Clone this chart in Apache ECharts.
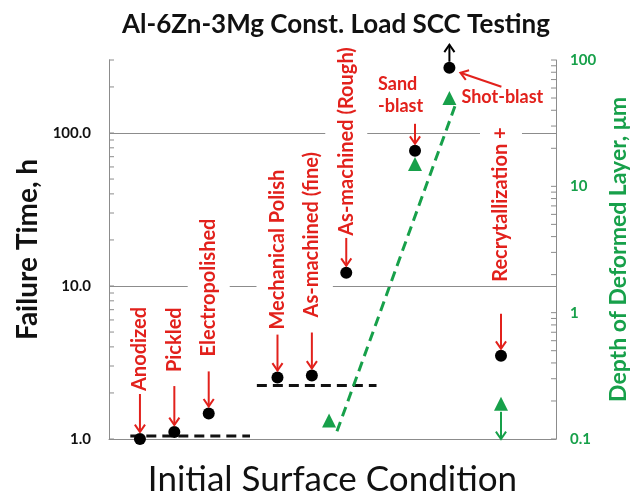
<!DOCTYPE html>
<html>
<head>
<meta charset="utf-8">
<script src="https://cdn.jsdelivr.net/npm/echarts@6/dist/echarts.min.js"></script>
<style>
  html, body { margin: 0; padding: 0; background: #fff; }
  #chart { width: 638px; height: 502px; }
</style>
</head>
<body>
<div id="chart"></div>
<script>
// Surface conditions, where they sit along the x axis, and failure times (h)
const conditions = ['Anodized', 'Pickled', 'Electropolished', 'Mechanical Polish',
  'As-machined (fine)', 'As-machined (Rough)', 'Sand\n-blast', 'Shot-blast', 'Recrytallization +'];
const positions = [1, 2, 3, 5, 6, 7, 9, 10, 11.5];
const failureTime = [1.0, 1.11, 1.47, 2.52, 2.6, 12.2, 76.5, 267, 3.5];

// Depth of the deformed surface layer (µm)
const depthPositions = [6.5, 9, 10, 11.5];
const depthValues = [0.14, 15, 50, 0.19];

// Depth trend line (x, µm)
const depthTrendX = [6.73, 10.16];
const depthTrendY = [0.115, 43];

// Average failure-time levels of the two low groups
const lowGroupX = [0.72, 4.2];
const lowGroupLevel = 1.045;
const midGroupX = [4.4, 7.88];
const midGroupLevel = 2.24;

// Axis ticks and labels
const leftTicks = [1, 2, 3, 4, 5, 6, 7, 8, 9, 10, 20, 30, 40, 50, 60, 70, 80, 90, 100, 200, 300];
const leftLabels = [1, 10, 100];
const rightTicks = [0.1, 0.2, 0.3, 0.4, 0.5, 0.6, 0.7, 0.8, 0.9, 1, 2, 3, 4, 5, 6, 7, 8, 9,
  10, 20, 30, 40, 50, 60, 70, 80, 90, 100];
const rightLabels = [0.1, 1, 10, 100];
const gridLevels = [10, 100];

const FONT = 'Lato, "Open Sans", sans-serif';
const RED = '#e2211c';
const GREEN = '#17a04a';
const AXIS = '#8c8c8c';
const X_MIN = 0.1, X_MAX = 13.1;

// Callout layout per condition, in pixels relative to its dot:
// len = arrow length, gap = space between arrow tail and text
const calloutLayout = [
  { len: 38, gap: 1 },
  { len: 39, gap: 12 },
  { len: 35, gap: 13 },
  { len: 36, gap: 3 },
  { len: 36, gap: 13 },
  { len: 28, gap: 0 },
  { len: 20, gap: 7, flat: true, dx: -37 },
  { shot: true },
  { len: 35, gap: 30 }
];

function arrowParts(a, b, color, width) {
  const ang = Math.atan2(b[1] - a[1], b[0] - a[0]);
  const h = 9, w = 0.6;
  const p1 = [b[0] - h * Math.cos(ang - w), b[1] - h * Math.sin(ang - w)];
  const p2 = [b[0] - h * Math.cos(ang + w), b[1] - h * Math.sin(ang + w)];
  return [
    { type: 'line', shape: { x1: a[0], y1: a[1], x2: b[0], y2: b[1] },
      style: { stroke: color, lineWidth: width } },
    { type: 'polyline', shape: { points: [p1, b, p2] },
      style: { stroke: color, lineWidth: width, fill: null } }
  ];
}

function renderCallout(params, api) {
  const i = api.value(2);
  const lay = calloutLayout[i];
  const p = api.coord([api.value(0), api.value(1)]);
  const children = [];
  const text = conditions[i];
  if (lay.shot) {
    children.push(...arrowParts([p[0] + 52, p[1] + 19], [p[0] + 11, p[1] + 5], RED, 2));
    children.push({ type: 'text', x: p[0] + 12, y: p[1] + 29,
      style: { text, font: 'bold 18px ' + FONT, fill: RED, align: 'left', verticalAlign: 'middle' } });
    // open-ended result: the specimen outlasted the test
    children.push(...arrowParts([p[0], p[1] - 6], [p[0], p[1] - 23], '#000', 2));
    return { type: 'group', children };
  }
  const tip = [p[0], p[1] - 7];
  const tail = [p[0], tip[1] - lay.len];
  if (lay.len > 0) children.push(...arrowParts(tail, tip, RED, 2));
  const foot = tail[1] - lay.gap;
  if (lay.flat) {
    children.push({ type: 'text', x: p[0] + lay.dx, y: foot,
      style: { text, font: 'bold 18px ' + FONT, fill: RED, align: 'left', verticalAlign: 'bottom',
        lineHeight: 22 } });
  } else {
    children.push({ type: 'text', x: p[0], y: foot, rotation: Math.PI / 2,
      style: { text, font: 'bold 20px ' + FONT, fill: RED, align: 'left', verticalAlign: 'middle',
        backgroundColor: '#fff', padding: [11, 2, 11, 2] } });
  }
  return { type: 'group', children };
}

function renderDepthArrow(params, api) {
  const p = api.coord([api.value(0), api.value(1)]);
  const base = api.coord([api.value(0), 0.1]);
  return { type: 'group', children: arrowParts([p[0], p[1] + 8], [base[0], base[1]], GREEN, 2) };
}

// Log-spaced ticks drawn just inside the plot edge (left or right)
function tickRenderer(side) {
  return function (params, api) {
    const y = api.coord([X_MIN, api.value(1)])[1];
    const cs = params.coordSys;
    const x = side === 'left' ? cs.x : cs.x + cs.width;
    const dir = side === 'left' ? 1 : -1;
    return { type: 'line', shape: { x1: x, y1: y, x2: x + dir * 5, y2: y },
      style: { stroke: AXIS, lineWidth: 1 } };
  };
}

const chart = echarts.init(document.getElementById('chart'));

chart.setOption({
  animation: false,
  backgroundColor: '#fff',
  graphic: [{
    type: 'text', x: 336, y: 25,
    style: { text: 'Al-6Zn-3Mg Const. Load SCC Testing', font: 'bold 26px ' + FONT,
      fill: '#111', align: 'center', verticalAlign: 'middle' }
  }],
  grid: { left: 109, right: 66, top: 60, bottom: 59, containLabel: false },
  xAxis: {
    type: 'value', min: X_MIN, max: X_MAX,
    name: 'Initial Surface Condition', nameLocation: 'middle', nameGap: 23,
    nameTextStyle: { fontFamily: FONT, fontSize: 35, color: '#111' },
    axisLine: { show: true, lineStyle: { color: AXIS, width: 1 } },
    axisTick: { show: false }, axisLabel: { show: false }, splitLine: { show: false }
  },
  yAxis: [{
    type: 'log', logBase: 10, min: 1, max: 300, position: 'left',
    name: 'Failure Time, h', nameLocation: 'middle', nameRotate: 90, nameGap: 67,
    nameTextStyle: { fontFamily: FONT, fontSize: 28, fontWeight: 'bold', color: '#111' },
    axisLine: { show: true, lineStyle: { color: AXIS, width: 1 } },
    axisTick: { show: false },
    axisLabel: { customValues: leftLabels, margin: 18, fontFamily: FONT, fontSize: 15,
      fontWeight: 'bold', color: '#111', formatter: v => Number(v).toFixed(1) },
    splitLine: { show: false }
  }, {
    type: 'log', logBase: 10, min: 0.1, max: 100, position: 'right',
    name: 'Depth of Deformed Layer, μm', nameLocation: 'middle', nameRotate: 90, nameGap: 39,
    nameTextStyle: { fontFamily: FONT, fontSize: 23, fontWeight: 'bold', color: GREEN },
    axisLine: { show: true, lineStyle: { color: AXIS, width: 1 } },
    axisTick: { show: false },
    axisLabel: { customValues: rightLabels, margin: 14, fontFamily: FONT, fontSize: 15,
      fontWeight: 'bold', color: GREEN, formatter: v => String(Number(v)) },
    splitLine: { show: false }
  }],
  series: [
    {
      name: 'grid', type: 'line', data: [], z: 1, silent: true,
      markLine: {
        silent: true, symbol: 'none', label: { show: false },
        lineStyle: { color: AXIS, width: 1, type: 'solid' },
        data: gridLevels.map(v => ({ yAxis: v }))
      }
    },
    {
      name: 'left ticks', type: 'custom', yAxisIndex: 0, z: 1, silent: true,
      renderItem: tickRenderer('left'), encode: { x: 0, y: 1 },
      data: leftTicks.map(v => [X_MIN, v])
    },
    {
      name: 'right ticks', type: 'custom', yAxisIndex: 1, z: 1, silent: true,
      renderItem: tickRenderer('right'), encode: { x: 0, y: 1 },
      data: rightTicks.map(v => [X_MIN, v])
    },
    {
      name: 'low group', type: 'line', yAxisIndex: 0, showSymbol: false, silent: true, z: 3,
      data: lowGroupX.map(x => [x, lowGroupLevel]),
      lineStyle: { color: '#111', width: 3, type: [10, 6] }
    },
    {
      name: 'mid group', type: 'line', yAxisIndex: 0, showSymbol: false, silent: true, z: 3,
      data: midGroupX.map(x => [x, midGroupLevel]),
      lineStyle: { color: '#111', width: 3, type: [10, 6] }
    },
    {
      name: 'depth trend', type: 'line', yAxisIndex: 1, showSymbol: false, silent: true, z: 3,
      data: depthTrendX.map((x, i) => [x, depthTrendY[i]]),
      lineStyle: { color: GREEN, width: 3, type: [10, 6] }
    },
    {
      name: 'failure time', type: 'scatter', yAxisIndex: 0, clip: false, z: 4,
      symbolSize: 12, itemStyle: { color: '#000', opacity: 1 },
      data: positions.map((x, i) => [x, failureTime[i]])
    },
    {
      name: 'layer depth', type: 'scatter', yAxisIndex: 1, clip: false, z: 4,
      symbol: 'triangle', symbolSize: 14, itemStyle: { color: GREEN, opacity: 1 },
      data: depthPositions.map((x, i) => [x, depthValues[i]])
    },
    {
      name: 'depth below limit', type: 'custom', yAxisIndex: 1, z: 5, silent: true,
      renderItem: renderDepthArrow,
      data: [[depthPositions[3], depthValues[3]]]
    },
    {
      name: 'callouts', type: 'custom', yAxisIndex: 0, z: 10, silent: true,
      renderItem: renderCallout,
      encode: { x: 0, y: 1 },
      data: positions.map((x, i) => [x, failureTime[i], i])
    }
  ]
});
</script>
</body>
</html>
